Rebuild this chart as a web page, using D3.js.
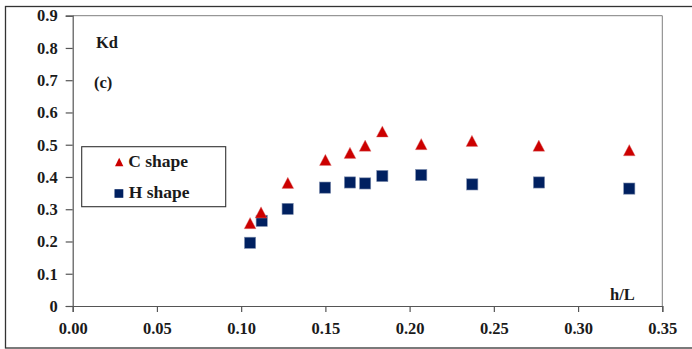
<!DOCTYPE html>
<html>
<head>
<meta charset="utf-8">
<script src="https://cdn.jsdelivr.net/npm/d3@7"></script>
<style>
  html, body { margin: 0; padding: 0; background: #fff; }
  svg { display: block; }
  text { font-family: "Liberation Serif", "Times New Roman", serif; font-weight: bold; fill: #1a1a1a; }
</style>
</head>
<body>
<svg id="chart" width="692" height="349"></svg>
<script>
// h/L values and Kd for the two breakwater shapes
const cShapeX = [0.1053, 0.1118, 0.1277, 0.1500, 0.1646, 0.1736, 0.1838, 0.2069, 0.2370, 0.2767, 0.3304];
const cShapeKd = [0.257, 0.290, 0.382, 0.453, 0.475, 0.497, 0.541, 0.502, 0.512, 0.497, 0.483];
const hShapeX = [0.1053, 0.1122, 0.1276, 0.1498, 0.1646, 0.1736, 0.1838, 0.2069, 0.2372, 0.2768, 0.3304];
const hShapeKd = [0.196, 0.264, 0.301, 0.367, 0.383, 0.380, 0.403, 0.406, 0.377, 0.383, 0.364];

const xTicks = [0, 0.05, 0.10, 0.15, 0.20, 0.25, 0.30, 0.35];
const yTicks = [0, 0.1, 0.2, 0.3, 0.4, 0.5, 0.6, 0.7, 0.8, 0.9];
const seriesNames = ["C shape", "H shape"];

const svg = d3.select("#chart");
const plot = { left: 72.7, right: 662.3, top: 15.7, bottom: 306 };

const x = d3.scaleLinear().domain([0, 0.35]).range([plot.left, plot.right]);
const y = d3.scaleLinear().domain([0, 0.9]).range([plot.bottom, plot.top]);

// outer frame
svg.append("rect")
  .attr("x", 5.5).attr("y", 6.5)
  .attr("width", 700).attr("height", 341.5)
  .attr("fill", "none").attr("stroke", "#333").attr("stroke-width", 1.3);

// plot area border (top and right)
svg.append("path")
  .attr("d", `M${plot.left},${plot.top}H${plot.right}V${plot.bottom}`)
  .attr("fill", "none").attr("stroke", "#7f7f7f").attr("stroke-width", 1);

// axes
const fmtY = d => d === 0 ? "0" : d3.format(".1f")(d);
const yAxis = d3.axisLeft(y).tickValues(yTicks).tickFormat(fmtY).tickSize(7).tickPadding(8);
const xAxis = d3.axisBottom(x).tickValues(xTicks).tickFormat(d3.format(".2f")).tickSize(6).tickPadding(6);

const gy = svg.append("g").attr("transform", `translate(${plot.left},0)`).call(yAxis);
const gx = svg.append("g").attr("transform", `translate(0,${plot.bottom})`).call(xAxis);

[gx, gy].forEach(g => {
  g.select(".domain").attr("stroke", "#555").attr("stroke-width", 1.2);
  g.selectAll(".tick line").attr("stroke", "#555").attr("stroke-width", 1.2);
  g.selectAll(".tick text")
    .attr("font-family", "Liberation Serif, Times New Roman, serif")
    .attr("font-weight", "bold")
    .attr("font-size", 16.5)
    .attr("fill", "#1a1a1a");
});
gx.selectAll(".tick text").attr("dy", "0.95em");

// marker shapes: triangle centred on its bounding box, square
function triPath(cx, cy, w, h) {
  return `M${cx},${cy - h / 2}L${cx + w / 2},${cy + h / 2}L${cx - w / 2},${cy + h / 2}Z`;
}

const redColor = "#cc0000";
const navyColor = "#002060";

// H shape squares
svg.append("g").selectAll("rect")
  .data(hShapeX.map((v, i) => [v, hShapeKd[i]]))
  .join("rect")
  .attr("x", d => x(d[0]) - 5.6)
  .attr("y", d => y(d[1]) - 5.6)
  .attr("width", 11.2).attr("height", 11.2)
  .attr("fill", navyColor)
  .attr("stroke", "#8090b0").attr("stroke-width", 0.6);

// C shape triangles
svg.append("g").selectAll("path")
  .data(cShapeX.map((v, i) => [v, cShapeKd[i]]))
  .join("path")
  .attr("d", d => triPath(x(d[0]), y(d[1]), 11.8, 11.2))
  .attr("fill", redColor)
  .attr("stroke", "#e08080").attr("stroke-width", 0.4);

// axis titles and panel tag
svg.append("text").attr("x", 96).attr("y", 47.5).attr("font-size", 16.5).text("Kd");
svg.append("text").attr("x", 94).attr("y", 88).attr("font-size", 16.5).text("(c)");
svg.append("text").attr("x", 610).attr("y", 299.5).attr("font-size", 16.5).text("h/L");

// legend
const lg = svg.append("g");
lg.append("rect")
  .attr("x", 81.7).attr("y", 146.7).attr("width", 144).attr("height", 60)
  .attr("fill", "#fff").attr("stroke", "#333").attr("stroke-width", 1.1);
lg.append("path").attr("d", triPath(119.2, 162, 8.4, 8.6)).attr("fill", redColor);
lg.append("rect").attr("x", 114.5).attr("y", 189.2).attr("width", 8.8).attr("height", 8.6).attr("fill", navyColor);
lg.append("text").attr("x", 128.3).attr("y", 166.8).attr("font-size", 17.5).text(seriesNames[0]);
lg.append("text").attr("x", 128.8).attr("y", 197.5).attr("font-size", 17.5).text(seriesNames[1]);
</script>
</body>
</html>
